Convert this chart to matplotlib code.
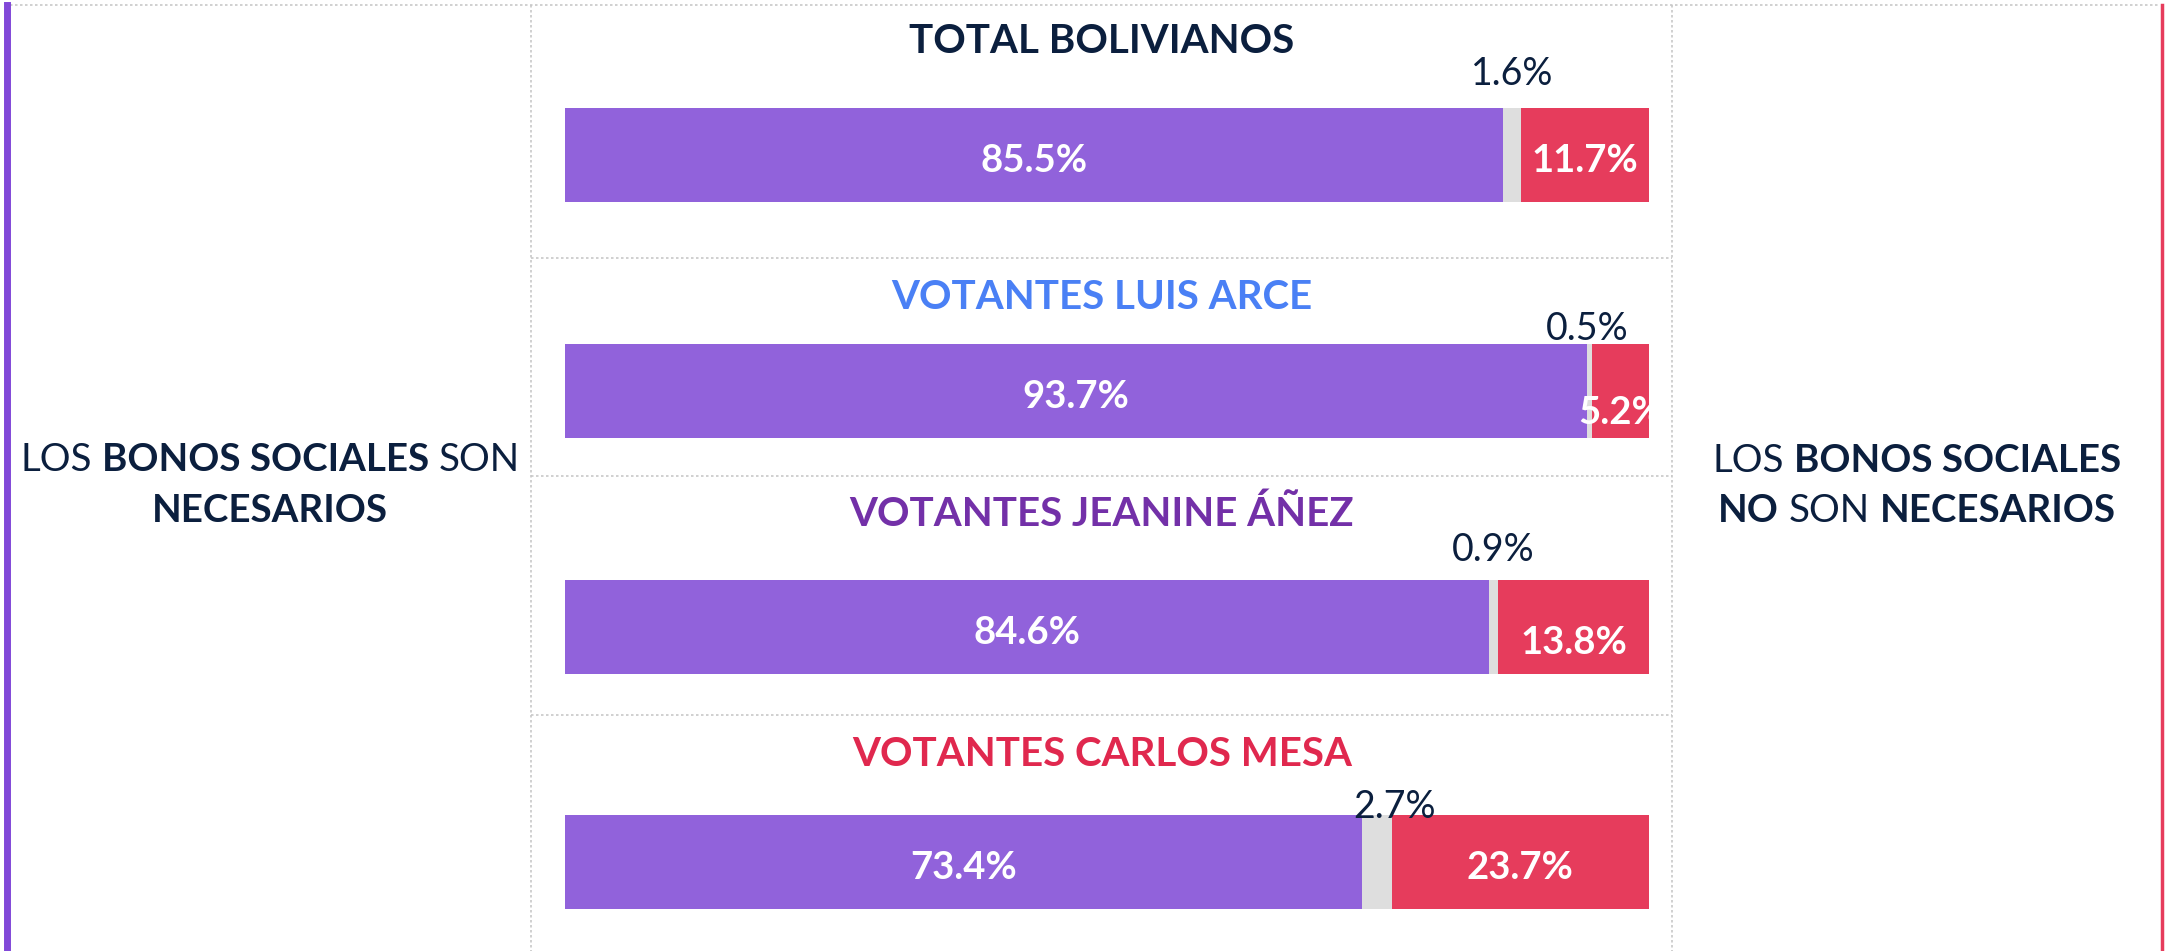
import matplotlib
matplotlib.use("Agg")
import matplotlib.pyplot as plt
from matplotlib.lines import Line2D

# Datos de la encuesta
grupos = ["TOTAL BOLIVIANOS", "VOTANTES LUIS ARCE",
          "VOTANTES JEANINE ÁÑEZ", "VOTANTES CARLOS MESA"]
necesarios = [85.5, 93.7, 84.6, 73.4]
ns_nr = [1.6, 0.5, 0.9, 2.7]
no_necesarios = [11.7, 5.2, 13.8, 23.7]

# Colores
PURPURA = "#9162DB"
ROJO = "#E63C5C"
GRIS = "#DEDEDE"
AZUL_OSCURO = "#0B1F3E"
color_titulos = [AZUL_OSCURO, "#4A80F5", "#7330A8", "#E0284E"]

plt.rcParams["font.family"] = ["Lato", "DejaVu Sans"]

W, H = 2165, 951
fig = plt.figure(figsize=(W / 100, H / 100), dpi=100)
fig.patch.set_facecolor("white")

# Eje de fondo en pixeles para lineas y textos
ax_bg = fig.add_axes([0, 0, 1, 1])
ax_bg.set_xlim(0, W)
ax_bg.set_ylim(H, 0)
ax_bg.axis("off")

DOT = dict(color="#C8C8C8", linewidth=1.2, linestyle=(0, (1.5, 1.5)))
ax_bg.add_line(Line2D([10, 2159], [5, 5], **DOT))
ax_bg.add_line(Line2D([531, 531], [5, H], **DOT))
ax_bg.add_line(Line2D([1672, 1672], [5, H], **DOT))
for y in [258, 476, 715]:
    ax_bg.add_line(Line2D([531, 1672], [y, y], **DOT))

# barras laterales
ax_bg.add_line(Line2D([7, 7], [5, H], color="#8148D8", linewidth=5))
ax_bg.add_line(Line2D([2161.5, 2161.5], [5, H], color=ROJO, linewidth=2.5))

renderer = fig.canvas.get_renderer()


def linea_mixta(x, y, partes, size):
    anchos = []
    for txt, peso in partes:
        t = ax_bg.text(0, 0, txt, fontsize=size, fontweight=peso)
        anchos.append(t.get_window_extent(renderer).width)
        t.remove()
    t1 = ax_bg.text(0, 0, "xx", fontsize=size)
    t2 = ax_bg.text(0, 0, "x x", fontsize=size)
    esp = t2.get_window_extent(renderer).width - t1.get_window_extent(renderer).width
    t1.remove()
    t2.remove()
    total = sum(anchos) + esp * (len(partes) - 1)
    xi = x - total / 2
    for (txt, peso), w in zip(partes, anchos):
        ax_bg.text(xi, y, txt, fontsize=size, fontweight=peso, color=AZUL_OSCURO,
                   ha="left", va="baseline")
        xi += w + esp


linea_mixta(270, 471, [("LOS", "normal"), ("BONOS SOCIALES", "bold"), ("SON", "normal")], 27.7)
linea_mixta(270, 522, [("NECESARIOS", "bold")], 27.7)
linea_mixta(1917, 472, [("LOS", "normal"), ("BONOS SOCIALES", "bold")], 27.7)
linea_mixta(1917, 522, [("NO", "bold"), ("SON", "normal"), ("NECESARIOS", "bold")], 27.7)

# Posiciones de cada fila (pixeles)
bar_top = [108, 344, 580, 815]
bar_h = 94
bar_x0, bar_x1 = 565, 1649
titulo_base = [53, 309, 526, 766]
gris_dy = [23, 4, 19, -3]
gris_dx = [0, -2, 0, 18]
rojo_dy = [0, 16, 10, 0]
PX = 0.72  # pixeles -> puntos

for i, grupo in enumerate(grupos):
    ax_bg.text(1102, titulo_base[i], grupo, fontsize=29, fontweight="bold",
               color=color_titulos[i], ha="center", va="baseline")

    ax = fig.add_axes([bar_x0 / W, 1 - (bar_top[i] + bar_h) / H,
                       (bar_x1 - bar_x0) / W, bar_h / H])
    total = necesarios[i] + ns_nr[i] + no_necesarios[i]
    ax.barh(0, necesarios[i], height=1, color=PURPURA, edgecolor="none")
    ax.barh(0, ns_nr[i], left=necesarios[i], height=1, color=GRIS, edgecolor="none")
    ax.barh(0, no_necesarios[i], left=necesarios[i] + ns_nr[i], height=1,
            color=ROJO, edgecolor="none")
    ax.set_xlim(0, total)
    ax.set_ylim(-0.5, 0.5)
    ax.axis("off")

    ax.annotate(f"{necesarios[i]}%", xy=(necesarios[i] / 2, 0),
                xytext=(0, -17 * PX), textcoords="offset points",
                ha="center", va="baseline", fontsize=27.5, fontweight="bold",
                color="white")
    t = ax.annotate(f"{no_necesarios[i]}%",
                    xy=(necesarios[i] + ns_nr[i] + no_necesarios[i] / 2, 0),
                    xytext=(0, -(17 + rojo_dy[i]) * PX), textcoords="offset points",
                    ha="center", va="baseline", fontsize=27.5, fontweight="bold",
                    color="white")
    t.set_clip_on(True)
    ax.annotate(f"{ns_nr[i]}%", xy=(necesarios[i] + ns_nr[i] / 2, 0.5),
                xytext=(gris_dx[i] * PX, gris_dy[i] * PX), textcoords="offset points",
                ha="center", va="baseline", fontsize=27, color=AZUL_OSCURO,
                annotation_clip=False)

fig.savefig("out.png", dpi=100, facecolor="white")
